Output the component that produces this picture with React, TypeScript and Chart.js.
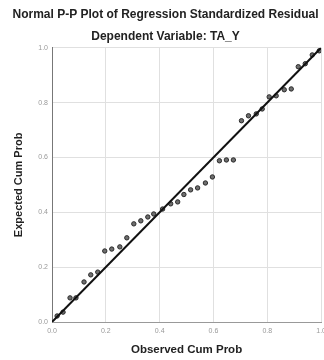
import React, { useEffect, useRef } from "react";
import { Chart, registerables } from "chart.js";

Chart.register(...registerables);

const titleText = "Normal P-P Plot of Regression Standardized Residual";
const subtitleText = "Dependent Variable: TA_Y";
const xTitle = "Observed Cum Prob";
const yTitle = "Expected Cum Prob";

const observed = [0.019, 0.041, 0.067, 0.089, 0.119, 0.144, 0.170, 0.196, 0.222, 0.252, 0.278, 0.304, 0.330, 0.356, 0.378, 0.411, 0.441, 0.467, 0.490, 0.515, 0.541, 0.570, 0.596, 0.622, 0.648, 0.674, 0.704, 0.730, 0.759, 0.781, 0.807, 0.833, 0.863, 0.889, 0.915, 0.941, 0.967, 0.993];
const expected = [0.022, 0.036, 0.088, 0.088, 0.146, 0.172, 0.182, 0.259, 0.266, 0.274, 0.307, 0.358, 0.369, 0.383, 0.394, 0.412, 0.431, 0.438, 0.465, 0.482, 0.489, 0.507, 0.529, 0.588, 0.591, 0.591, 0.734, 0.752, 0.759, 0.777, 0.821, 0.825, 0.847, 0.850, 0.931, 0.942, 0.974, 0.989];
const refLine = [0, 1];

export default function App() {
  const ref = useRef<HTMLCanvasElement | null>(null);

  useEffect(() => {
    if (!ref.current) return;
    const font = "'Liberation Sans', Arial, sans-serif";
    const chart = new Chart(ref.current, {
      type: "scatter",
      data: {
        datasets: [
          {
            type: "line",
            label: "ref",
            data: refLine.map((v) => ({ x: v, y: v })),
            borderColor: "#111",
            borderWidth: 2,
            pointRadius: 0,
            order: 0,
          },
          {
            label: "points",
            data: observed.map((x, i) => ({ x, y: expected[i] })),
            backgroundColor: "#6e6e6e",
            borderColor: "#2a2a2a",
            borderWidth: 1,
            pointRadius: 2.2,
            order: 1,
          },
        ],
      },
      options: {
        animation: false,
        responsive: true,
        maintainAspectRatio: false,
        layout: { padding: { left: 0, right: 0, top: 0, bottom: 0 } },
        plugins: {
          legend: { display: false },
          tooltip: { enabled: false },
          title: {
            display: true,
            text: titleText,
            color: "#222",
            font: { family: font, size: 12, weight: "bold" },
            padding: { top: 7, bottom: 4 },
          },
          subtitle: {
            display: true,
            text: subtitleText,
            color: "#222",
            font: { family: font, size: 12, weight: "bold" },
            padding: { top: 4, bottom: 4 },
          },
        },
        scales: {
          x: {
            type: "linear",
            min: 0,
            max: 1,
            afterFit: (s: any) => {
              s.height = 38;
            },
            ticks: {
              stepSize: 0.2,
              callback: (v: any) => Number(v).toFixed(1),
              color: "#999",
              font: { family: font, size: 7 },
              padding: 5,
              maxRotation: 0,
            },
            grid: { color: "#e0e0e0", drawTicks: false },
            border: { color: "#999" },
            title: {
              display: true,
              text: xTitle,
              color: "#222",
              font: { family: font, size: 11.5, weight: "bold" },
              padding: { top: 0, bottom: 3 },
            },
          },
          y: {
            type: "linear",
            min: 0,
            max: 1,
            afterFit: (s: any) => {
              s.width = 52;
            },
            ticks: {
              stepSize: 0.2,
              callback: (v: any) => Number(v).toFixed(1),
              color: "#999",
              font: { family: font, size: 7 },
              padding: 4,
            },
            grid: { color: "#e0e0e0", drawTicks: false },
            border: { color: "#777" },
            title: {
              display: true,
              text: yTitle,
              color: "#222",
              font: { family: font, size: 11, weight: "bold" },
              padding: { top: 12, bottom: 0 },
            },
          },
          yr: {
            type: "linear",
            position: "right",
            min: 0,
            max: 1,
            afterFit: (s: any) => {
              s.width = 9;
            },
            ticks: { display: false },
            grid: { display: false, drawTicks: false },
            border: { display: false },
          },
        },
      },
    } as any);
    return () => chart.destroy();
  }, []);

  return (
    <div style={{ position: "fixed", left: 0, top: 0, width: 324, height: 360, overflow: "hidden", background: "#fff" }}>
      <div style={{ position: "relative", width: 331, height: 360 }}>
        <canvas ref={ref} />
      </div>
    </div>
  );
}
